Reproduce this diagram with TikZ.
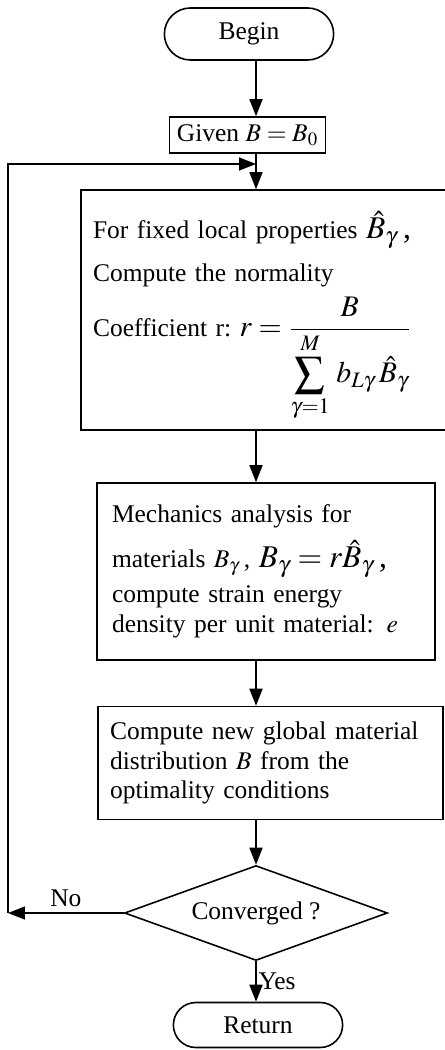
\documentclass[tikz,border=0pt]{standalone}
\usepackage{amsmath}
\usepackage{mathptmx}
\usepackage{fontspec}
\setmainfont{Liberation Serif}
\usepackage{tikz}
\usetikzlibrary{arrows.meta, positioning, shapes.geometric, shapes.misc}
\newcommand{\bodyfont}{\fontsize{14.5}{17}\selectfont}
\newcommand{\bigmath}{\fontsize{18}{22}\selectfont}
\newcommand{\fracmath}{\fontsize{17}{22}\selectfont}
\tikzset{
  flow/.style={-{Triangle[length=0.34cm, width=0.26cm]}, line width=0.9pt},
  term/.style={draw, line width=0.9pt, rounded rectangle, minimum width=3.62cm, minimum height=1cm, font=\bodyfont},
  procbox/.style={draw, line width=0.9pt, align=left, font=\bodyfont},
}

\begin{document}
\begin{tikzpicture}[x=0.02cm, y=-0.02cm]
  \useasboundingbox (0,0) rectangle (445,1050);
  \coordinate (axis) at (256,0);

  \node[term, minimum height=1.04cm] (begin) at (249,34) {Begin};
  \node[procbox, minimum width=3.12cm, minimum height=0.72cm, inner sep=0pt] (given) at (247.5,135) {Given $B=B_0$};
  \node[procbox, text width=6.9cm, inner xsep=0.24cm, minimum height=4.8cm, font=\fontsize{14.5}{24}\selectfont] (fixed) at (265.5,310) {
    \rule{0pt}{23pt}For fixed local properties~{\bigmath$\hat{B}_{\gamma}$\,,}\\
    Compute the normality\\[5pt]
    Coefficient r:\ {\fracmath$r=\dfrac{B}{\displaystyle\sum_{\gamma=1}^{M}\,b_{L\gamma}\,\hat{B}_{\gamma}}$}
  };
  \node[procbox, text width=6.16cm, inner xsep=0.3cm, minimum height=3.54cm] (mech) at (266,571.5) {
    Mechanics analysis for\\[6pt]
    materials $B_{\gamma}$\,, {\bigmath$B_{\gamma}=r\hat{B}_{\gamma}$\,,}\\[3pt]
    compute strain energy\\
    density per unit material: $e$
  };
  \node[procbox, text width=6.42cm, inner xsep=0.24cm, minimum height=2.26cm] (update) at (270.5,763) {
    Compute new global material\\
    distribution $B$ from the\\
    optimality conditions
  };
  \node[diamond, draw, line width=0.9pt, inner sep=0pt, shape aspect=2.77, minimum width=5.26cm, minimum height=1.9cm, font=\bodyfont] (conv) at (256,913) {Converged ?};
  \node[term, minimum height=0.9cm] (return) at (258,1025) {Return};

  \coordinate (join) at (256,164);
  \coordinate (back) at (8,913);

  \draw[flow] (begin.south -| axis) -- (given.north -| axis);
  \draw[line width=0.9pt] (given.south -| axis) -- (join);
  \draw[flow] (join) -- (fixed.north -| axis);
  \draw[flow] (fixed.south -| axis) -- (mech.north -| axis);
  \draw[flow] (mech.south -| axis) -- (update.north -| axis);
  \draw[flow] (update.south -| axis) -- (conv.north);
  \draw[flow] (conv.west) -- node[above, font=\bodyfont] {No} (back);
  \draw[flow] (back) |- (join);
  \draw[flow] (conv.south) -- node[right, inner sep=1pt, font=\bodyfont] {Yes} (return.north -| axis);
\end{tikzpicture}
\end{document}
